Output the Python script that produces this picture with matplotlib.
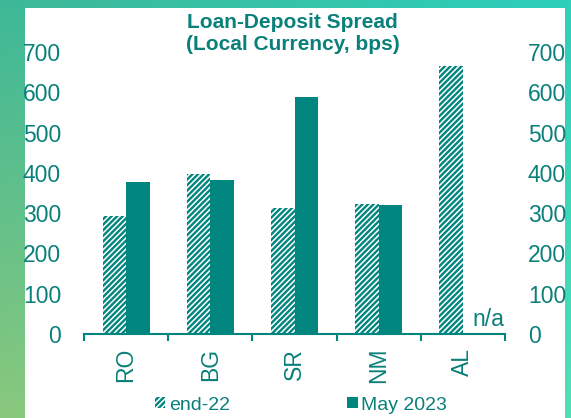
import matplotlib
matplotlib.use("Agg")
import matplotlib.pyplot as plt
import numpy as np
from matplotlib.colors import to_rgb
from matplotlib.patches import Rectangle

# Spread data (bps)
countries = ["RO", "BG", "SR", "NM", "AL"]
end_22 = [292, 397, 313, 323, 665]
may_2023 = [378, 383, 588, 320, np.nan]  # AL not available
y_ticks = [0, 100, 200, 300, 400, 500, 600, 700]

TEAL = "#00857f"
TEXT = "#0a807a"

plt.rcParams.update({
    "font.family": ["Liberation Sans", "DejaVu Sans"],
    "hatch.linewidth": 1.7,
})

W, H = 571, 418
fig = plt.figure(figsize=(W / 100, H / 100), dpi=100)

# Gradient backdrop with a white card on top
bg = fig.add_axes([0, 0, 1, 1], zorder=-10)
corners = {k: np.array(to_rgb(c)) for k, c in
           {"tl": "#3db897", "tr": "#2ccfbb", "bl": "#8ac87c", "br": "#4fe0b8"}.items()}
u = np.linspace(0, 1, 200)[None, :, None]
v = np.linspace(0, 1, 150)[:, None, None]
grad = ((1 - v) * ((1 - u) * corners["tl"] + u * corners["tr"])
        + v * ((1 - u) * corners["bl"] + u * corners["br"]))
bg.imshow(grad, aspect="auto", extent=[0, 1, 0, 1])
bg.add_patch(Rectangle((25 / W, 0), 540 / W, 1 - 8 / H,
                       facecolor="white", edgecolor="none"))
bg.set_xlim(0, 1)
bg.set_ylim(0, 1)
bg.axis("off")

ax = fig.add_axes([84 / W, 84 / H, 421 / W, 282 / H])
ax.set_facecolor("none")

x = np.arange(len(countries))
bw = 0.28
ax.bar(x - bw / 2, end_22, bw, facecolor="white", edgecolor=TEAL,
       hatch="//////", linewidth=0, label="end-22")
ax.bar(x + bw / 2, may_2023, bw, color=TEAL, linewidth=0, label="May 2023")

ax.text(4.11, 37, "n/a", color=TEXT, fontsize=16.5, ha="left", va="center")

ax.set_xlim(-0.5, len(countries) - 0.5)
ax.set_ylim(0, 700)
ax.set_yticks(y_ticks)
ax.tick_params(axis="y", left=False, right=False, labelleft=True,
               labelright=True, labelsize=16.5, labelcolor=TEXT, pad=13)

# Category boundaries as major ticks, names on minor ticks
ax.set_xticks(np.arange(-0.5, len(countries)))
ax.set_xticklabels([])
ax.set_xticks(x, minor=True)
ax.set_xticklabels(countries, minor=True, rotation=90, fontsize=16.5, color=TEXT)
ax.tick_params(axis="x", which="major", direction="out", length=5,
               width=1.5, color=TEAL)
ax.tick_params(axis="x", which="minor", length=0, pad=10)

for side in ["left", "right", "top"]:
    ax.spines[side].set_visible(False)
ax.spines["bottom"].set_color(TEAL)
ax.spines["bottom"].set_linewidth(1.5)

fig.text(292.5 / W, 1 - 13 / H, "Loan-Deposit Spread\n(Local Currency, bps)",
         ha="center", va="top", fontsize=15, fontweight="bold", color=TEXT,
         linespacing=1.2)

fig.legend(loc="center", bbox_to_anchor=(301 / W, 1 - 405 / H), ncol=2,
           frameon=False, fontsize=14, labelcolor=TEXT, handlelength=0.55,
           handleheight=0.55, handletextpad=0.2, columnspacing=6.0)

fig.savefig("out.png", dpi=100)
plt.close(fig)
